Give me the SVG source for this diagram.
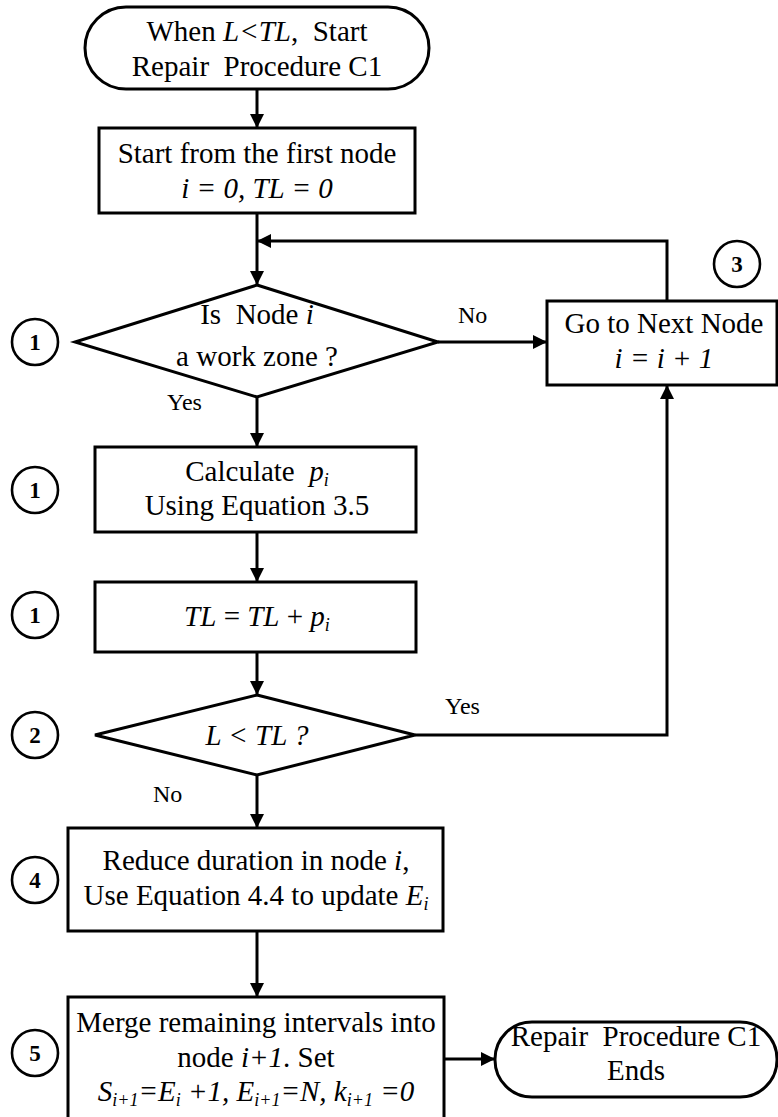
<svg xmlns="http://www.w3.org/2000/svg" width="778" height="1117" viewBox="0 0 778 1117">
<defs>
<marker id="ah" viewBox="0 0 14 14" refX="14" refY="7" markerWidth="14" markerHeight="14" markerUnits="userSpaceOnUse" orient="auto">
<path d="M0,0 L14,7 L0,14 Z" fill="#000"/>
</marker>
<style>
.s{fill:#fff;stroke:#000;stroke-width:3}
.t{font-family:"Liberation Serif","Tinos","Times New Roman","DejaVu Serif",serif;font-size:29px;fill:#000;text-anchor:middle}
.l{font-family:"Liberation Serif","Tinos","Times New Roman","DejaVu Serif",serif;font-size:24px;fill:#000}
.n{font-family:"Liberation Serif","Tinos","Times New Roman","DejaVu Serif",serif;font-size:23px;font-weight:bold;fill:#000;text-anchor:middle}
.c{fill:#fff;stroke:#000;stroke-width:2.6}
.e{fill:none;stroke:#000;stroke-width:3}
.i{font-style:italic}
.sb{font-size:18px}
</style>
</defs>
<rect width="778" height="1117" fill="#fff"/>
<g id="connectors">
<line class="e" x1="257" y1="89" x2="257" y2="128" marker-end="url(#ah)"/>
<line class="e" x1="257" y1="213" x2="257" y2="285" marker-end="url(#ah)"/>
<polyline class="e" points="667,301 667,241 257,241" marker-end="url(#ah)"/>
<line class="e" x1="438" y1="342" x2="547" y2="342" marker-end="url(#ah)"/>
<line class="e" x1="257" y1="397" x2="257" y2="447" marker-end="url(#ah)"/>
<line class="e" x1="257" y1="532" x2="257" y2="582" marker-end="url(#ah)"/>
<line class="e" x1="257" y1="652" x2="257" y2="695" marker-end="url(#ah)"/>
<polyline class="e" points="415,735 667,735 667,385" marker-end="url(#ah)"/>
<line class="e" x1="257" y1="775" x2="257" y2="828" marker-end="url(#ah)"/>
<line class="e" x1="257" y1="931" x2="257" y2="997" marker-end="url(#ah)"/>
<line class="e" x1="444" y1="1059" x2="495" y2="1059" marker-end="url(#ah)"/>
<text class="l" x="458" y="323">No</text>
<text class="l" x="167" y="410">Yes</text>
<text class="l" x="445" y="714">Yes</text>
<text class="l" x="153" y="802">No</text>
</g>
<g id="start">
<rect class="s" x="85" y="7" width="344" height="82" rx="41"/>
<text class="t" x="257" y="41" xml:space="preserve">When <tspan class="i">L&lt;TL</tspan>,  Start</text>
<text class="t" x="257" y="76" xml:space="preserve">Repair  Procedure C1</text>
</g>
<g id="init">
<rect class="s" x="99" y="128" width="316" height="85"/>
<text class="t" x="257" y="163">Start from the first node</text>
<text class="t i" x="257" y="198">i = 0, TL = 0</text>
</g>
<g id="dec1">
<polygon class="s" points="257,285 438,342 257,397 75,342"/>
<text class="t" x="257" y="324" xml:space="preserve">Is  Node <tspan class="i">i</tspan></text>
<text class="t" x="257" y="366">a work zone ?</text>
</g>
<g id="next">
<rect class="s" x="547" y="301" width="230" height="84"/>
<text class="t" x="664" y="333">Go to Next Node</text>
<text class="t i" x="664" y="368">i = i + 1</text>
</g>
<g id="calc">
<rect class="s" x="95" y="447" width="321" height="85"/>
<text class="t" x="257" y="481" xml:space="preserve">Calculate  <tspan class="i">p</tspan><tspan class="i sb" dy="5">i</tspan></text>
<text class="t" x="257" y="515">Using Equation 3.5</text>
</g>
<g id="accum">
<rect class="s" x="95" y="582" width="321" height="70"/>
<text class="t" x="257" y="626"><tspan class="i">TL</tspan> = <tspan class="i">TL</tspan> + <tspan class="i">p</tspan><tspan class="i sb" dy="5">i</tspan></text>
</g>
<g id="dec2">
<polygon class="s" points="257,695 415,735 257,775 95,735"/>
<text class="t i" x="257" y="745">L &lt; TL ?</text>
</g>
<g id="reduce">
<rect class="s" x="68" y="828" width="375" height="103"/>
<text class="t" x="256" y="870">Reduce duration in node <tspan class="i">i</tspan>,</text>
<text class="t" x="256" y="905">Use Equation 4.4 to update <tspan class="i">E</tspan><tspan class="i sb" dy="5">i</tspan></text>
</g>
<g id="merge">
<rect class="s" x="68" y="997" width="376" height="140"/>
<text class="t" x="256" y="1032">Merge remaining intervals into</text>
<text class="t" x="256" y="1067">node <tspan class="i">i+1</tspan>. Set</text>
<text class="t i" x="256" y="1101">S<tspan class="sb" dy="5">i+1</tspan><tspan dy="-5">=E</tspan><tspan class="sb" dy="5">i</tspan><tspan dy="-5"> +1, E</tspan><tspan class="sb" dy="5">i+1</tspan><tspan dy="-5">=N, k</tspan><tspan class="sb" dy="5">i+1</tspan><tspan dy="-5"> =0</tspan></text>
</g>
<g id="end">
<rect class="s" x="495" y="1022" width="282" height="75" rx="37"/>
<text class="t" x="636" y="1046" xml:space="preserve">Repair  Procedure C1</text>
<text class="t" x="636" y="1080">Ends</text>
</g>
<g id="markers">
<circle class="c" cx="35" cy="342" r="23"/><text class="n" x="35" y="350">1</text>
<circle class="c" cx="35" cy="490" r="23"/><text class="n" x="35" y="498">1</text>
<circle class="c" cx="35" cy="615" r="23"/><text class="n" x="35" y="623">1</text>
<circle class="c" cx="35" cy="735" r="23"/><text class="n" x="35" y="743">2</text>
<circle class="c" cx="35" cy="880" r="23"/><text class="n" x="35" y="888">4</text>
<circle class="c" cx="35" cy="1053" r="23"/><text class="n" x="35" y="1061">5</text>
<circle class="c" cx="737" cy="264" r="23"/><text class="n" x="737" y="272">3</text>
</g>
</svg>
